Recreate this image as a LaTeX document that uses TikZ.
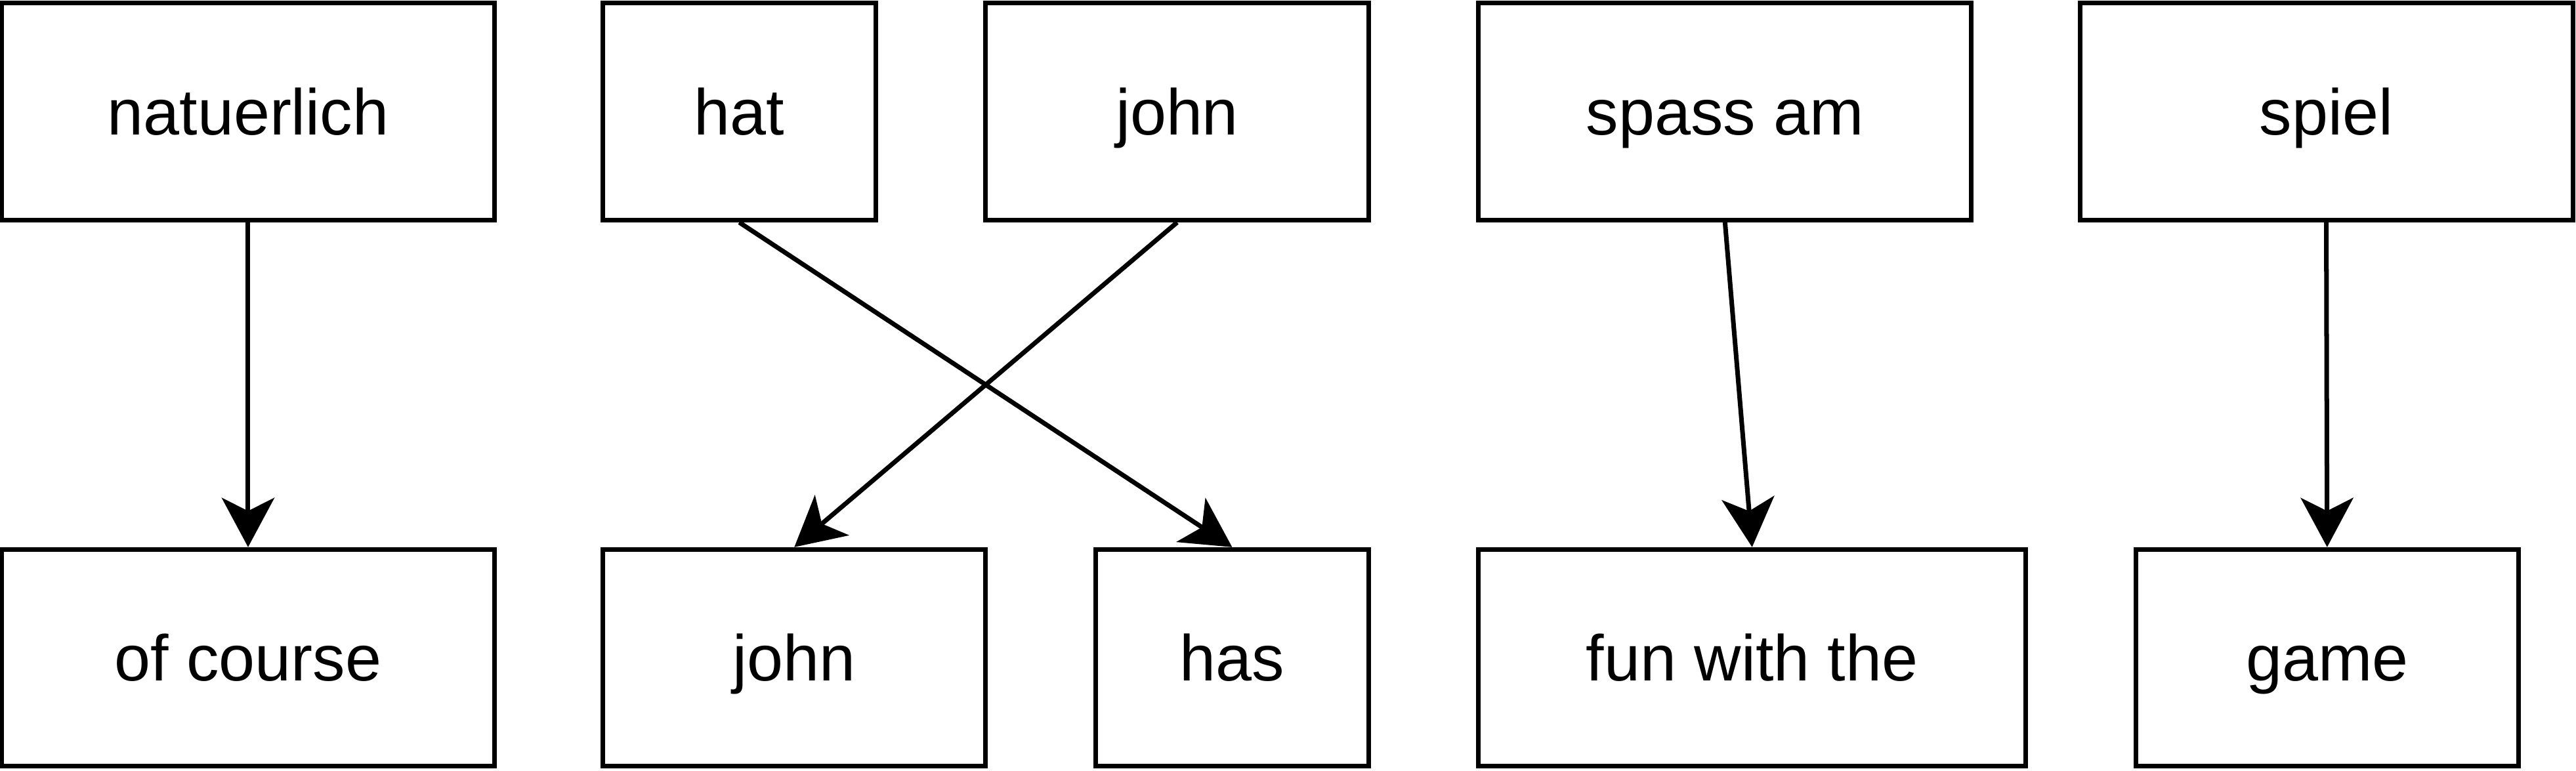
\documentclass[tikz,border=0pt]{standalone}
\usepackage{fontspec}
\setmainfont{Liberation Sans}
\usepackage{tikz}
\usepackage{xcolor}
\usetikzlibrary{arrows.meta}
\tikzset{
    word-box/.style = {draw=black, fill=white, line width=1.4pt, rectangle, inner sep=0pt, minimum height=66pt, text height=18.8pt, text depth=4.7pt, font=\fontsize{19.75}{24}\selectfont},
    align-arrow/.style = {draw=black, line width=1.4pt, -{Stealth[length=15pt, width=16pt, inset=4pt]}},
}

\begin{document}
\begin{tikzpicture}[x=0.5pt, y=-0.5pt]
\useasboundingbox (0,0) rectangle (1568,469.4);
% source words
\node [word-box, minimum width=150pt] (natuerlich) at (151,68) {natuerlich};
\node [word-box, minimum width=83pt] (hat) at (450,68) {hat};
\node [word-box, minimum width=116.5pt] (john-de) at (716.5,68) {john};
\node [word-box, minimum width=150pt] (spassam) at (1050,68) {spass am};
\node [word-box, minimum width=150pt] (spiel) at (1416,68) {spiel};
% target words
\node [word-box, minimum width=150pt] (ofcourse) at (151,400.5) {of course};
\node [word-box, minimum width=116.5pt] (john-en) at (483.5,400.5) {john};
\node [word-box, minimum width=83pt] (has) at (750,400.5) {has};
\node [word-box, minimum width=166.5pt] (funwith) at (1066.5,400.5) {fun with the};
\node [word-box, minimum width=116.5pt] (game) at (1416.5,400.5) {game};
% alignment
\draw [align-arrow] (natuerlich.south) -- (ofcourse.north);
\draw [align-arrow] (hat.south) -- (has.north);
\draw [align-arrow] (john-de.south) -- (john-en.north);
\draw [align-arrow] (spassam.south) -- (funwith.north);
\draw [align-arrow] (spiel.south) -- (game.north);
\end{tikzpicture}
\end{document}
